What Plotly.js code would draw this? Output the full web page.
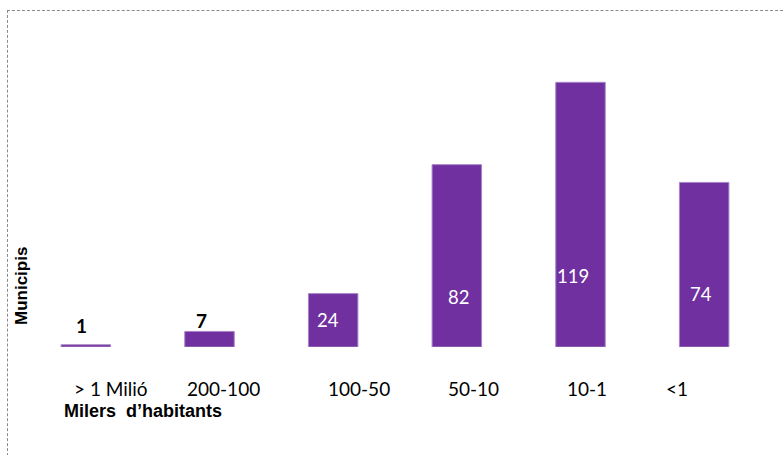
<!DOCTYPE html>
<html>
<head>
<meta charset="utf-8">
<script src="https://cdn.plot.ly/plotly-3.0.1.min.js"></script>
<style>
  html, body { margin: 0; padding: 0; background: #fff; }
  #wrap { position: relative; width: 783px; height: 455px; overflow: hidden; }
  #chart { position: absolute; left: 0; top: 0; width: 783px; height: 455px; }
  #frame { position: absolute; left: 7px; top: 10px; width: 800px; height: 460px;
           border-top: 1px dashed #8a8a8a; border-left: 1px dashed #8a8a8a; pointer-events: none; }
</style>
</head>
<body>
<div id="wrap"><div id="chart"></div><div id="frame"></div></div>
<script>
// ---- data ----
const categories = ["> 1 Milió", "200-100", "100-50", "50-10", "10-1", "<1"];
const municipis = [1, 7, 24, 82, 119, 74];
const xTitle = "Milers  d\u2019habitants";
const yTitle = "Municipis";

// ---- label styling (pixel offsets, not data) ----
const tickShiftX = [25.5, 13.5, 25.5, 16.5, 6.5, -27];
const valShiftX = [-4.5, -8.5, -5.5, 1.5, -7.5, -3];
const valShiftY = [22, 27, 27, 50, 71, 53.5];
const valOutside = [true, true, false, false, false, false];

const purple = "#7030A0";
const annotations = [];
categories.forEach((c, i) => {
  annotations.push({
    x: c, y: 0, xref: "x", yref: "y", text: c, showarrow: false,
    xanchor: "center", yanchor: "middle", xshift: tickShiftX[i], yshift: -41,
    font: { family: "Lato, 'Open Sans', sans-serif", size: 19, color: "#000" }
  });
  annotations.push({
    x: c, y: 0, xref: "x", yref: "y", text: String(municipis[i]), showarrow: false,
    xanchor: "center", yanchor: "middle", xshift: valShiftX[i], yshift: valShiftY[i],
    font: valOutside[i]
      ? { family: "Lato, sans-serif", size: 19, color: "#000", weight: "bold" }
      : { family: "Lato, sans-serif", size: 18.5, color: "#fff" }
  });
});
annotations.push({
  xref: "paper", yref: "paper", x: (62 - 24) / 742, y: (347 - 411) / 278,
  xanchor: "left", yanchor: "middle", showarrow: false, text: "<b>" + xTitle + "</b>",
  font: { family: "'Liberation Sans', Arial, sans-serif", size: 18, color: "#000" }
});
annotations.push({
  xref: "paper", yref: "paper", x: (21 - 24) / 742, y: (347 - 286) / 278,
  xanchor: "center", yanchor: "middle", showarrow: false, textangle: -90,
  text: "<b>" + yTitle + "</b>",
  font: { family: "'Liberation Sans', Arial, sans-serif", size: 17, color: "#000" }
});

const trace = {
  type: "bar",
  x: categories,
  y: municipis,
  marker: { color: purple, line: { color: "#a784c6", width: 1 } },
  hoverinfo: "x+y"
};

const layout = {
  width: 783, height: 455,
  margin: { l: 24, r: 17, t: 69, b: 108, pad: 0 },
  paper_bgcolor: "#fff", plot_bgcolor: "#fff",
  bargap: 0.6,
  showlegend: false,
  xaxis: { type: "category", showticklabels: false, showgrid: false, zeroline: false,
           showline: false, ticks: "", fixedrange: true },
  yaxis: { range: [0, 125], showticklabels: false, showgrid: false, zeroline: false,
           showline: false, ticks: "", fixedrange: true },
  annotations: annotations
};

Plotly.newPlot("chart", [trace], layout, { displayModeBar: false, staticPlot: true });
</script>
</body>
</html>
